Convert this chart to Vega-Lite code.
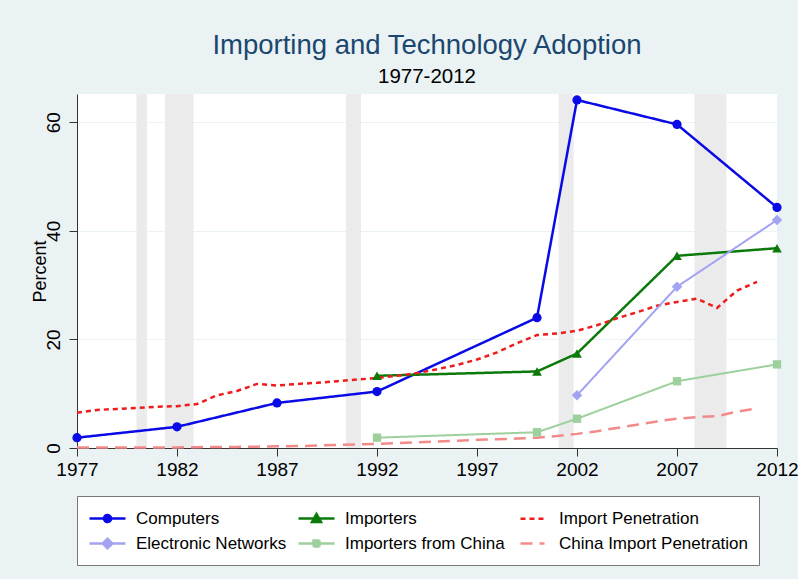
{
  "$schema": "https://vega.github.io/schema/vega-lite/v6.json",
  "width": 700,
  "height": 354,
  "autosize": {"type": "none"},
  "padding": {"left": 77, "top": 94, "right": 21, "bottom": 131},
  "background": "#eaf2f3",
  "config": {
    "view": {"fill": "white", "stroke": null},
    "font": "Liberation Sans"
  },
  "title": {
    "text": "Importing and Technology Adoption",
    "subtitle": "1977-2012",
    "fontSize": 27.5,
    "fontWeight": "normal",
    "color": "#1a476f",
    "subtitleFontSize": 20.5,
    "subtitleColor": "#000000",
    "anchor": "middle",
    "frame": "group",
    "offset": 7,
    "subtitlePadding": 7,
    "font": "Liberation Sans",
    "subtitleFont": "Liberation Sans"
  },
  "datasets": {
    "bands": [
      {"start": 1979.97, "end": 1980.5},
      {"start": 1981.4, "end": 1982.83},
      {"start": 1990.45, "end": 1991.2},
      {"start": 2001.08, "end": 2001.83},
      {"start": 2007.87, "end": 2009.47}
    ],
    "main": [
      {"year": 1977, "series": "Computers", "value": 1.9},
      {"year": 1982, "series": "Computers", "value": 3.9},
      {"year": 1987, "series": "Computers", "value": 8.3},
      {"year": 1992, "series": "Computers", "value": 10.4},
      {"year": 2000, "series": "Computers", "value": 24.0},
      {"year": 2002, "series": "Computers", "value": 64.1},
      {"year": 2007, "series": "Computers", "value": 59.6},
      {"year": 2012, "series": "Computers", "value": 44.3},
      {"year": 1992, "series": "Importers", "value": 13.3},
      {"year": 2000, "series": "Importers", "value": 14.1},
      {"year": 2002, "series": "Importers", "value": 17.4},
      {"year": 2007, "series": "Importers", "value": 35.4},
      {"year": 2012, "series": "Importers", "value": 36.8},
      {"year": 2002, "series": "Electronic Networks", "value": 9.7},
      {"year": 2007, "series": "Electronic Networks", "value": 29.7},
      {"year": 2012, "series": "Electronic Networks", "value": 42.0},
      {"year": 1992, "series": "Importers from China", "value": 1.9},
      {"year": 2000, "series": "Importers from China", "value": 2.9},
      {"year": 2002, "series": "Importers from China", "value": 5.4},
      {"year": 2007, "series": "Importers from China", "value": 12.3},
      {"year": 2012, "series": "Importers from China", "value": 15.4},
      {"year": 1977, "series": "Import Penetration", "value": 6.5},
      {"year": 1978, "series": "Import Penetration", "value": 7.0},
      {"year": 1979, "series": "Import Penetration", "value": 7.2},
      {"year": 1980, "series": "Import Penetration", "value": 7.4},
      {"year": 1981, "series": "Import Penetration", "value": 7.6},
      {"year": 1982, "series": "Import Penetration", "value": 7.7},
      {"year": 1983, "series": "Import Penetration", "value": 8.1},
      {"year": 1984, "series": "Import Penetration", "value": 9.7},
      {"year": 1985, "series": "Import Penetration", "value": 10.5},
      {"year": 1986, "series": "Import Penetration", "value": 11.8},
      {"year": 1987, "series": "Import Penetration", "value": 11.5},
      {"year": 1988, "series": "Import Penetration", "value": 11.8},
      {"year": 1989, "series": "Import Penetration", "value": 12.0},
      {"year": 1990, "series": "Import Penetration", "value": 12.3},
      {"year": 1991, "series": "Import Penetration", "value": 12.6},
      {"year": 1992, "series": "Import Penetration", "value": 12.9},
      {"year": 1993, "series": "Import Penetration", "value": 13.3},
      {"year": 1994, "series": "Import Penetration", "value": 13.8},
      {"year": 1995, "series": "Import Penetration", "value": 14.5},
      {"year": 1996, "series": "Import Penetration", "value": 15.3},
      {"year": 1997, "series": "Import Penetration", "value": 16.3},
      {"year": 1998, "series": "Import Penetration", "value": 17.6},
      {"year": 1999, "series": "Import Penetration", "value": 19.3},
      {"year": 2000, "series": "Import Penetration", "value": 20.8},
      {"year": 2001, "series": "Import Penetration", "value": 21.1},
      {"year": 2002, "series": "Import Penetration", "value": 21.6},
      {"year": 2003, "series": "Import Penetration", "value": 22.6},
      {"year": 2004, "series": "Import Penetration", "value": 23.9},
      {"year": 2005, "series": "Import Penetration", "value": 25.0},
      {"year": 2006, "series": "Import Penetration", "value": 26.2},
      {"year": 2007, "series": "Import Penetration", "value": 26.9},
      {"year": 2008, "series": "Import Penetration", "value": 27.5},
      {"year": 2009, "series": "Import Penetration", "value": 25.8},
      {"year": 2010, "series": "Import Penetration", "value": 29.0},
      {"year": 2011, "series": "Import Penetration", "value": 30.6},
      {"year": 1977, "series": "China Import Penetration", "value": 0.1},
      {"year": 1978, "series": "China Import Penetration", "value": 0.1},
      {"year": 1979, "series": "China Import Penetration", "value": 0.1},
      {"year": 1980, "series": "China Import Penetration", "value": 0.1},
      {"year": 1981, "series": "China Import Penetration", "value": 0.1},
      {"year": 1982, "series": "China Import Penetration", "value": 0.1},
      {"year": 1983, "series": "China Import Penetration", "value": 0.15},
      {"year": 1984, "series": "China Import Penetration", "value": 0.2},
      {"year": 1985, "series": "China Import Penetration", "value": 0.2},
      {"year": 1986, "series": "China Import Penetration", "value": 0.25},
      {"year": 1987, "series": "China Import Penetration", "value": 0.3},
      {"year": 1988, "series": "China Import Penetration", "value": 0.35},
      {"year": 1989, "series": "China Import Penetration", "value": 0.45},
      {"year": 1990, "series": "China Import Penetration", "value": 0.55},
      {"year": 1991, "series": "China Import Penetration", "value": 0.65},
      {"year": 1992, "series": "China Import Penetration", "value": 0.75},
      {"year": 1993, "series": "China Import Penetration", "value": 0.9},
      {"year": 1994, "series": "China Import Penetration", "value": 1.05},
      {"year": 1995, "series": "China Import Penetration", "value": 1.2},
      {"year": 1996, "series": "China Import Penetration", "value": 1.35},
      {"year": 1997, "series": "China Import Penetration", "value": 1.5},
      {"year": 1998, "series": "China Import Penetration", "value": 1.6},
      {"year": 1999, "series": "China Import Penetration", "value": 1.75},
      {"year": 2000, "series": "China Import Penetration", "value": 1.9},
      {"year": 2001, "series": "China Import Penetration", "value": 2.2},
      {"year": 2002, "series": "China Import Penetration", "value": 2.6},
      {"year": 2003, "series": "China Import Penetration", "value": 3.1},
      {"year": 2004, "series": "China Import Penetration", "value": 3.7},
      {"year": 2005, "series": "China Import Penetration", "value": 4.3},
      {"year": 2006, "series": "China Import Penetration", "value": 4.9},
      {"year": 2007, "series": "China Import Penetration", "value": 5.4},
      {"year": 2008, "series": "China Import Penetration", "value": 5.7},
      {"year": 2009, "series": "China Import Penetration", "value": 5.85},
      {"year": 2010, "series": "China Import Penetration", "value": 6.7},
      {"year": 2011, "series": "China Import Penetration", "value": 7.3}
    ]
  },
  "layer": [
    {
      "data": {"name": "main"},
      "transform": [{"filter": "false"}],
      "mark": {"type": "point", "filled": true, "opacity": 1, "strokeWidth": 2.5},
      "encoding": {
        "x": {"field": "year", "type": "quantitative"},
        "y": {"field": "value", "type": "quantitative"},
        "fill": {
          "field": "series", "type": "nominal",
          "scale": {
            "domain": ["Computers", "Importers", "Import Penetration", "Electronic Networks", "Importers from China", "China Import Penetration"],
            "range": ["#0a0ae6", "#0b7a0b", "#ee1c1c", "#a3a3f2", "#9dd09d", "#f38a8a"]
          },
          "legend": {
            "title": null, "orient": "bottom", "direction": "horizontal", "columns": 3,
            "symbolSize": 400, "symbolStrokeWidth": 2.5, "symbolOpacity": 1, "labelOffset": 25,
            "labelFontSize": 17, "labelColor": "#000000", "labelFont": "Liberation Sans", "labelLimit": 400,
            "fillColor": "white", "strokeColor": "#777777",
            "padding": 11, "columnPadding": 6, "rowPadding": 5, "offset": 17
          }
        },
        "stroke": {
          "field": "series", "type": "nominal",
          "scale": {
            "domain": ["Computers", "Importers", "Import Penetration", "Electronic Networks", "Importers from China", "China Import Penetration"],
            "range": ["#0a0ae6", "#0b7a0b", "#ee1c1c", "#a3a3f2", "#9dd09d", "#f38a8a"]
          }
        },
        "strokeDash": {
          "field": "series", "type": "nominal",
          "scale": {
            "domain": ["Computers", "Importers", "Import Penetration", "Electronic Networks", "Importers from China", "China Import Penetration"],
            "range": [[1, 0], [1, 0], [5, 4], [1, 0], [1, 0], [12, 7]]
          }
        },
        "shape": {
          "field": "series", "type": "nominal",
          "scale": {
            "domain": ["Computers", "Importers", "Import Penetration", "Electronic Networks", "Importers from China", "China Import Penetration"],
            "range": [
              "M-1,0H2.6M1.15,0A0.35,0.35,0,1,1,0.45,0A0.35,0.35,0,1,1,1.15,0Z",
              "M-1,0H2.6M0.8,-0.45L1.25,0.35L0.35,0.35Z",
              "M-0.2,0H2.2",
              "M-1,0H2.6M0.8,-0.48L1.28,0L0.8,0.48L0.32,0Z",
              "M-1,0H2.6M0.5,-0.3H1.1V0.3H0.5Z",
              "M-0.2,0H2.2"
            ]
          }
        }
      }
    },
    {
      "data": {"name": "bands"},
      "mark": {"type": "rect", "color": "#ebebeb"},
      "encoding": {
        "x": {
          "field": "start", "type": "quantitative",
          "scale": {"domain": [1977, 2012], "nice": false, "zero": false},
          "axis": {
            "values": [1977, 1982, 1987, 1992, 1997, 2002, 2007, 2012],
            "format": "d", "title": null, "grid": false,
            "labelFontSize": 19, "labelColor": "#000000", "labelFlush": false,
            "tickSize": 8, "labelPadding": 4,
            "domainColor": "#333333", "tickColor": "#333333"
          }
        },
        "x2": {"field": "end"}
      }
    },
    {
      "data": {"name": "main"},
      "transform": [{"filter": "datum.series !== 'Electronic Networks' && datum.series !== 'Importers from China'"}],
      "mark": {"type": "line", "strokeWidth": 2.5, "strokeCap": "butt"},
      "encoding": {
        "x": {"field": "year", "type": "quantitative"},
        "y": {
          "field": "value", "type": "quantitative",
          "scale": {"domain": [0, 65.2], "nice": false},
          "axis": {
            "values": [0, 20, 40, 60], "title": "Percent",
            "titleFontSize": 18, "titleFontWeight": "normal", "titleColor": "#000000", "titlePadding": -5,
            "labelAngle": 270, "labelAlign": "center", "labelBaseline": "bottom",
            "labelFontSize": 19, "labelColor": "#000000", "tickSize": 8, "labelPadding": 6,
            "gridColor": "#eaf2f3", "domainColor": "#333333", "tickColor": "#333333"
          }
        },
        "stroke": {"field": "series", "type": "nominal", "legend": null},
        "strokeDash": {"field": "series", "type": "nominal", "legend": null}
      }
    },
    {
      "data": {"name": "main"},
      "transform": [{"filter": "datum.series === 'Electronic Networks' || datum.series === 'Importers from China'"}],
      "mark": {"type": "line", "strokeWidth": 2, "strokeCap": "butt"},
      "encoding": {
        "x": {"field": "year", "type": "quantitative"},
        "y": {"field": "value", "type": "quantitative"},
        "stroke": {"field": "series", "type": "nominal", "legend": null},
        "strokeDash": {"field": "series", "type": "nominal", "legend": null}
      }
    },
    {
      "data": {"name": "main"},
      "transform": [{"filter": "datum.series === 'Computers'"}],
      "mark": {"type": "point", "shape": "circle", "size": 85, "filled": true, "opacity": 1, "strokeWidth": 0},
      "encoding": {
        "x": {"field": "year", "type": "quantitative"},
        "y": {"field": "value", "type": "quantitative"},
        "fill": {"field": "series", "type": "nominal", "legend": null}
      }
    },
    {
      "data": {"name": "main"},
      "transform": [{"filter": "datum.series === 'Importers'"}],
      "mark": {"type": "point", "shape": "triangle-up", "size": 95, "filled": true, "opacity": 1, "strokeWidth": 0},
      "encoding": {
        "x": {"field": "year", "type": "quantitative"},
        "y": {"field": "value", "type": "quantitative"},
        "fill": {"field": "series", "type": "nominal", "legend": null}
      }
    },
    {
      "data": {"name": "main"},
      "transform": [{"filter": "datum.series === 'Electronic Networks'"}],
      "mark": {"type": "point", "shape": "diamond", "size": 110, "filled": true, "opacity": 1, "strokeWidth": 0},
      "encoding": {
        "x": {"field": "year", "type": "quantitative"},
        "y": {"field": "value", "type": "quantitative"},
        "fill": {"field": "series", "type": "nominal", "legend": null}
      }
    },
    {
      "data": {"name": "main"},
      "transform": [{"filter": "datum.series === 'Importers from China'"}],
      "mark": {"type": "point", "shape": "square", "size": 70, "filled": true, "opacity": 1, "strokeWidth": 0},
      "encoding": {
        "x": {"field": "year", "type": "quantitative"},
        "y": {"field": "value", "type": "quantitative"},
        "fill": {"field": "series", "type": "nominal", "legend": null}
      }
    }
  ]
}
